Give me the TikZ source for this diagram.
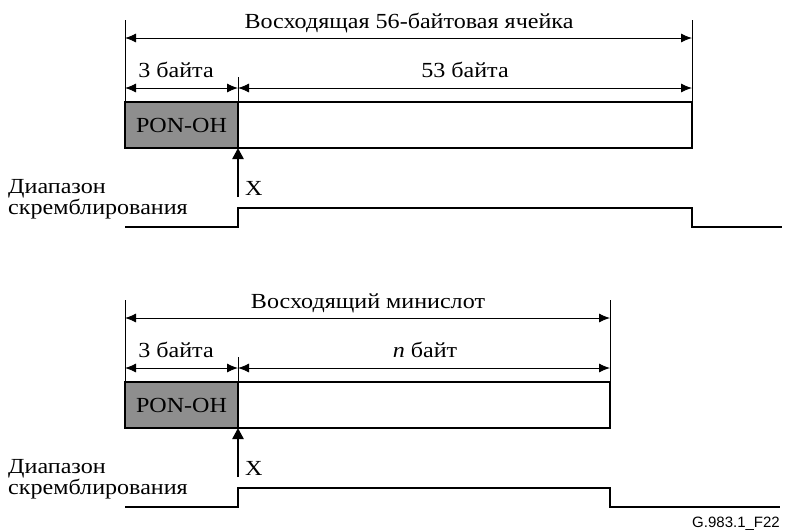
\documentclass[tikz,border=0pt]{standalone}
\usepackage{fontspec}
\setmainfont{Liberation Serif}[FakeStretch=1.12]
\newfontfamily\figfont{Liberation Sans}
\usetikzlibrary{arrows.meta}
\definecolor{ohgray}{RGB}{142,142,142}
\tikzset{
  lbl/.style={font=\fontsize{21.5}{21}\selectfont,inner sep=0pt},
  ohbox/.style={draw,line width=2.8pt,fill=ohgray,anchor=north west,minimum width=113pt,minimum height=46pt,inner sep=0pt,outer sep=0pt,lbl},
  databox/.style={draw,line width=2.8pt,anchor=north west,minimum height=46pt,inner sep=0pt,outer sep=0pt},
  extline/.style={line width=0.9pt},
  dimline/.style={line width=0.9pt,{Latex[length=11pt,width=9pt]}-{Latex[length=11pt,width=9pt]}},
  markarrow/.style={line width=2.5pt,-{Triangle[length=11pt,width=11pt]}},
  scram/.style={line width=2.6pt},
}
\begin{document}
\begin{tikzpicture}[x=1pt,y=-1pt]
  \useasboundingbox (0,0) rectangle (785,531);

  % upstream cell
  \node[databox,minimum width=454pt] (cell) at (238,102) {};
  \node[ohbox] (oh) at (125,102) {PON-OH};
  \coordinate (cellL) at (125,20);
  \coordinate (cellR) at (692,20);
  \coordinate (cellM) at (238,77);
  \draw[extline] (cellL) -- (oh.north west);
  \draw[extline] (cellR) -- (cell.north east);
  \draw[extline] (cellM) -- (oh.north east);
  \draw[dimline] (125,38) -- (692,38);
  \draw[dimline] (125,88) -- (238,88);
  \draw[dimline] (238,88) -- (692,88);
  \node[lbl,anchor=base] (cellTitle) at (409,28) {Восходящая 56-байтовая ячейка};
  \node[lbl,anchor=base] (ohLen) at (176,77) {3 байта};
  \node[lbl,anchor=base] (cellLen) at (465,77) {53 байта};

  \coordinate (xStart) at (238,197);
  \draw[markarrow] (xStart) -- (oh.south east);
  \node[lbl,anchor=base west] (xLbl) at (245,195) {X};
  \node[lbl,anchor=base west,align=left] (scrLbl) at (8,214) {Диапазон\\скремблирования};
  \draw[scram] (125,227) -| (238,208) -| (692,227) -- (782,227);

  % upstream minislot
  \node[databox,minimum width=372pt] (slot) at (238,382) {};
  \node[ohbox] (oh2) at (125,382) {PON-OH};
  \coordinate (slotL) at (125,300);
  \coordinate (slotR) at (610,300);
  \coordinate (slotM) at (238,357);
  \draw[extline] (slotL) -- (oh2.north west);
  \draw[extline] (slotR) -- (slot.north east);
  \draw[extline] (slotM) -- (oh2.north east);
  \draw[dimline] (125,318) -- (610,318);
  \draw[dimline] (125,368) -- (238,368);
  \draw[dimline] (238,368) -- (610,368);
  \node[lbl,anchor=base] (slotTitle) at (368,308) {Восходящий минислот};
  \node[lbl,anchor=base] (ohLen2) at (176,357) {3 байта};
  \node[lbl,anchor=base] (slotLen) at (425,357) {\textit{n} байт};

  \coordinate (xStart2) at (238,477);
  \draw[markarrow] (xStart2) -- (oh2.south east);
  \node[lbl,anchor=base west] (xLbl2) at (245,475) {X};
  \node[lbl,anchor=base west,align=left] (scrLbl2) at (8,494) {Диапазон\\скремблирования};
  \draw[scram] (125,507) -| (238,488) -| (610,507) -- (780,507);

  \node[font=\figfont\fontsize{15}{15}\selectfont,anchor=base east,inner sep=0pt] (figId) at (780,527) {G.983.1\_F22};
\end{tikzpicture}
\end{document}
